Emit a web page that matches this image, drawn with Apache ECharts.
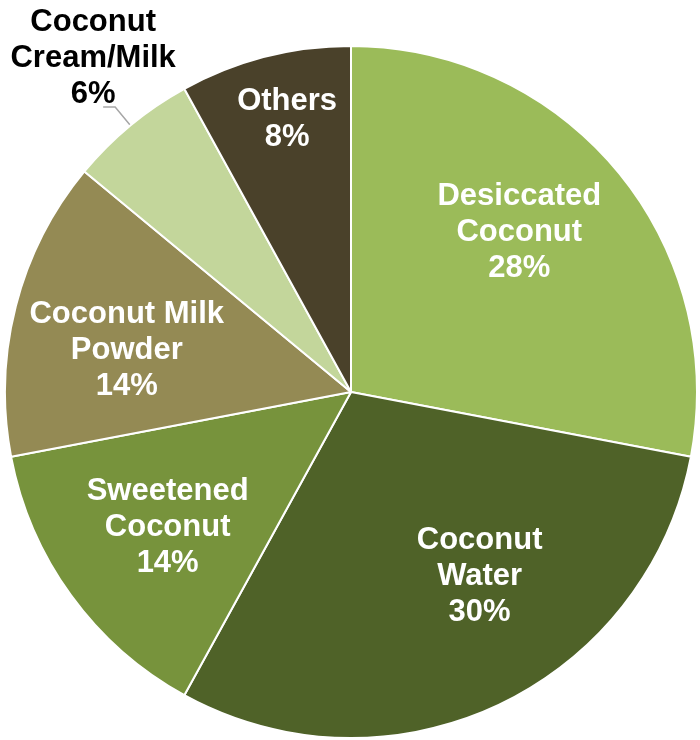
<!DOCTYPE html>
<html><head><meta charset="utf-8">
<script src="https://cdn.jsdelivr.net/npm/echarts@6/dist/echarts.min.js"></script>
<style>html,body{margin:0;padding:0;background:#fff}#c{width:700px;height:740px}</style>
</head><body><div id="c"></div>
<script>
const categories = ['Desiccated\nCoconut', 'Coconut\nWater', 'Sweetened\nCoconut', 'Coconut Milk\nPowder', 'Coconut\nCream/Milk', 'Others'];
const values = [28, 30, 14, 14, 6, 8];
const colors = ['#9BBB59', '#4F6228', '#77933C', '#948A54', '#C3D69B', '#4A412A'];
const insideLabel = [true, true, true, true, false, true];
const labelRadius = [0.675, 0.645, 0.655, 0.66, 0, 0.815];
const labelAngleShift = [-4.3, -10, 0, -3.5, 0, 1.3];

const CX = 351, CY = 392, R = 346;
const total = values.reduce((a, b) => a + b, 0);

const chart = echarts.init(document.getElementById('c'), null, {renderer: 'canvas'});
const data = categories.map((c, i) => ({
  name: c,
  value: values[i],
  itemStyle: {color: colors[i]},
  label: insideLabel[i]
    ? {position: 'inside', color: '#fff'}
    : {position: 'outside', color: '#000'},
  labelLine: {show: !insideLabel[i], length: 24, length2: 12, lineStyle: {color: '#A6A6A6', width: 1.5}}
}));

chart.setOption({
  animation: false,
  series: [{
    type: 'pie',
    center: [CX, CY],
    radius: R,
    startAngle: 90,
    clockwise: true,
    avoidLabelOverlap: false,
    itemStyle: {borderColor: '#fff', borderWidth: 2},
    label: {
      fontFamily: '"Liberation Sans", Arial, Helvetica, sans-serif',
      fontWeight: 'bold',
      fontSize: 31,
      lineHeight: 36,
      align: 'center',
      formatter: p => p.name + '\n' + Math.round(p.percent) + '%'
    },
    labelLayout: function (p) {
      const i = p.dataIndex;
      if (insideLabel[i]) {
        let start = 0;
        for (let k = 0; k < i; k++) start += values[k];
        const mid = (start + values[i] / 2) / total * 360 + labelAngleShift[i];
        const a = mid * Math.PI / 180;
        return {
          x: CX + R * labelRadius[i] * Math.sin(a),
          y: CY - R * labelRadius[i] * Math.cos(a) + 2,
          align: 'center',
          verticalAlign: 'middle'
        };
      } else {
        const pts = p.labelLinePoints;
        if (!pts) return {};
        const end = pts[pts.length - 1];
        return {
          x: end[0] - 10,
          y: end[1] + 6 - p.labelRect.height / 2,
          align: 'center',
          verticalAlign: 'middle',
          labelLinePoints: pts
        };
      }
    },
    data: data
  }]
});
</script>
</body></html>
